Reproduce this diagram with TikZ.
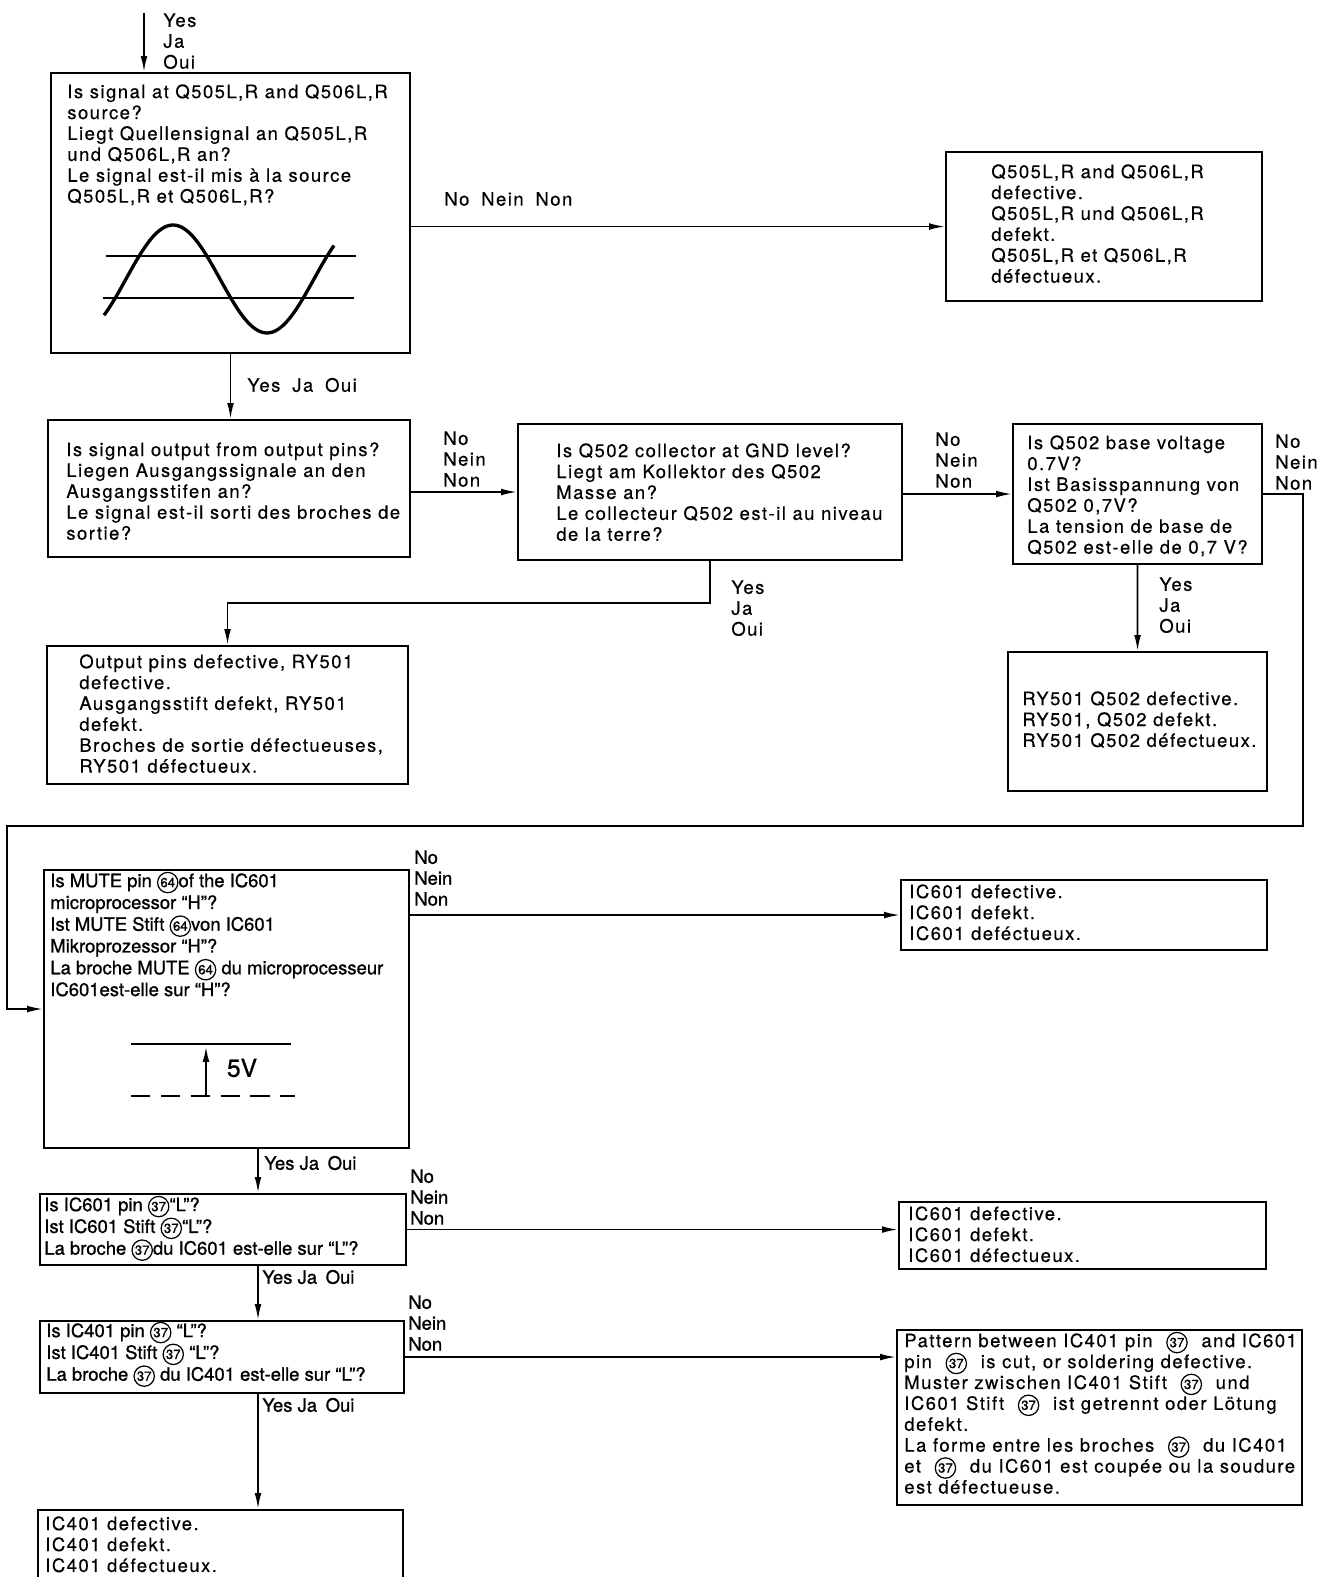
\documentclass[tikz,border=0pt]{standalone}
\usepackage{fontspec}
\setmainfont[LetterSpace=8,FakeBold=0.4]{TeX Gyre Heros}
\newfontfamily\boldish[FakeBold=1.0]{TeX Gyre Heros}
\usetikzlibrary{arrows.meta,positioning}
\newcommand{\pinno}[1]{\smash{\tikz[baseline=(pn.base)]\node[draw,circle,line width=0.7pt,inner sep=0.6pt,anchor=center,font=\fontsize{7.5}{7.5}\selectfont\boldish] (pn) {#1};}}
\newcommand{\pinsp}[1]{\hspace{4pt}\pinno{#1}\hspace{4pt}}

\begin{document}
\begin{tikzpicture}[x=0.02cm,y=-0.02cm,>={Latex[length=9pt,width=3.8pt]},
  box/.style 2 args={draw,line width=1.2pt,inner sep=0pt,anchor=north west,minimum width=#1,minimum height=#2},
  txt/.style={inner sep=0pt,align=left,font=\fontsize{10.5}{11.9}\selectfont},
  txtb/.style={inner sep=0pt,align=left,font=\fontsize{10.5}{12.4}\selectfont\boldish},
  lbl/.style={inner sep=0pt,align=left,font=\fontsize{10.5}{11.9}\selectfont},
  lblb/.style={inner sep=0pt,align=left,font=\fontsize{10.5}{11.9}\selectfont\boldish},
  wire/.style={line width=1pt},
  arr/.style={wire,->}]
\useasboundingbox (0,0) rectangle (1323,1577);

% boxes
\node[box={7.18cm}{5.60cm}] (A) at (50,72) {};
\node[box={6.32cm}{2.98cm}] (B) at (945,151) {};
\node[box={7.24cm}{2.74cm}] (C) at (47,419) {};
\node[box={7.68cm}{2.72cm}] (D) at (517,423) {};
\node[box={4.98cm}{2.80cm}] (E) at (1012,423) {};
\node[box={7.22cm}{2.76cm}] (F) at (46,645) {};
\node[box={5.18cm}{2.78cm}] (G) at (1007,651) {};
\node[box={7.30cm}{5.56cm}] (H) at (43,869) {};
\node[box={7.32cm}{1.40cm}] (I) at (900,879) {};
\node[box={7.32cm}{1.42cm}] (J) at (39,1193) {};
\node[box={7.34cm}{1.34cm}] (K) at (898,1201) {};
\node[box={7.28cm}{1.44cm}] (L) at (39,1320) {};
\node[box={8.10cm}{3.50cm}] (M) at (896,1329) {};
\node[box={7.30cm}{1.60cm}] (N) at (37,1509) {};

% texts
\node[txt,below right=0.24cm and 0.34cm of A.north west] (At) {Is signal at Q505L,R and Q506L,R\\source?\\Liegt Quellensignal an Q505L,R\\und Q506L,R an?\\Le signal est-il mis à la source\\Q505L,R et Q506L,R?};
\node[txt,below right=0.26cm and 0.92cm of B.north west] (Bt) {Q505L,R and Q506L,R\\defective.\\Q505L,R und Q506L,R\\defekt.\\Q505L,R et Q506L,R\\défectueux.};
\node[txt,below right=0.46cm and 0.38cm of C.north west] (Ct) {Is signal output from output pins?\\Liegen Ausgangssignale an den\\Ausgangsstifen an?\\Le signal est-il sorti des broches de\\sortie?};
\node[txt,below right=0.40cm and 0.78cm of D.north west] (Dt) {Is Q502 collector at GND level?\\Liegt am Kollektor des Q502\\Masse an?\\Le collecteur Q502 est-il au niveau\\de la terre?};
\node[txt,below right=0.24cm and 0.30cm of E.north west] (Et) {Is Q502 base voltage\\0.7V?\\Ist Basisspannung von\\Q502 0,7V?\\La tension de base de\\Q502 est-elle de 0,7 V?};
\node[txt,below right=0.18cm and 0.66cm of F.north west] (Ft) {Output pins defective, RY501\\defective.\\Ausgangsstift defekt, RY501\\defekt.\\Broches de sortie défectueuses,\\RY501 défectueux.};
\node[txt,below right=0.80cm and 0.30cm of G.north west] (Gt) {RY501 Q502 defective.\\RY501, Q502 defekt.\\RY501 Q502 défectueux.};
\node[txtb,below right=0.08cm and 0.14cm of H.north west] (Ht) {Is MUTE pin \pinno{64}of the IC601\\microprocessor “H”?\\Ist MUTE Stift \pinno{64}von IC601\\Mikroprozessor “H”?\\La broche MUTE \pinno{64} du microprocesseur\\IC601est-elle sur “H”?};
\node[txt,below right=0.10cm and 0.18cm of I.north west] (It) {IC601 defective.\\IC601 defekt.\\IC601 deféctueux.};
\node[txtb,below right=0.08cm and 0.10cm of J.north west] (Jt) {Is IC601 pin \pinno{37}“L”?\\Ist IC601 Stift \pinno{37}“L”?\\La broche \pinno{37}du IC601 est-elle sur “L”?};
\node[txt,below right=0.10cm and 0.20cm of K.north west] (Kt) {IC601 defective.\\IC601 defekt.\\IC601 défectueux.};
\node[txtb,below right=0.06cm and 0.14cm of L.north west] (Lt) {Is IC401 pin \pinno{37} “L”?\\Ist IC401 Stift \pinno{37} “L”?\\La broche \pinno{37} du IC401 est-elle sur “L”?};
\node[txt,below right=0.08cm and 0.16cm of M.north west] (Mt) {Pattern between IC401 pin \pinsp{37} and IC601\\pin \pinsp{37} is cut, or soldering defective.\\Muster zwischen IC401 Stift \pinsp{37} und\\IC601 Stift \pinsp{37} ist getrennt oder Lötung\\defekt.\\La forme entre les broches \pinsp{37} du IC401\\et \pinsp{37} du IC601 est coupée ou la soudure\\est défectueuse.};
\node[txt,below right=0.14cm and 0.16cm of N.north west] (Nt) {IC401 defective.\\IC401 defekt.\\IC401 défectueux.};

% sine wave
\draw[line width=1.1pt] (106,256) -- (356,256);
\draw[line width=1.1pt] (103,298) -- (354,298);
\draw[line width=1.9pt,domain=104:334,samples=80,smooth] plot (\x,{279-54*sin((\x-173)*1.915+90)});

% 5V level
\draw[line width=1.6pt] (131,1044) -- (291,1044);
\draw[line width=1.6pt,dash pattern=on 11pt off 6pt] (131,1096) -- (295,1096);
\draw[->,line width=1.2pt] (206,1096) -- (206,1046);
\node[font=\fontsize{14}{14}\selectfont\boldish] (volt) at (242,1068) {5V};

% connectors
\coordinate (start) at (144,13);
\coordinate (Dturn) at (710,603);
\coordinate (wireR) at (1303,826);
\coordinate (wireL) at (7,826);
\coordinate (spine) at (258,0);
\draw[arr] (start) -- (start |- A.north);
\draw[arr] (A.east |- B.west) -- (B.west);
\draw[arr] (A.south) -- (A.south |- C.north);
\draw[arr] (C.east |- D.west) -- (D.west);
\draw[arr] (D.east |- E.west) -- (E.west);
\draw[arr] (D.south -| Dturn) -- (Dturn) -| (F.north);
\draw[arr] (E.south) -- (G.north);
\draw[arr] (E.east) -| (wireR) -- (wireL) |- (H.west);
\draw[arr] (H.east |- I.west) -- (I.west);
\draw[arr] (H.south -| spine) -- (J.north -| spine);
\draw[arr] (J.east) -- (J.east -| K.west);
\draw[arr] (J.south -| spine) -- (L.north -| spine);
\draw[arr] (L.east) -- (L.east -| M.west);
\draw[arr] (L.south -| spine) -- (N.north -| spine);

% labels
\node[lbl,anchor=north west] (yesTop) at (163,13) {Yes\\Ja\\Oui};
\node[lbl,anchor=west] (noAB) at (444,199) {No\hspace{3pt} Nein\hspace{3pt} Non};
\node[lbl,anchor=west] (yesAC) at (247,385) {Yes\hspace{3pt} Ja\hspace{3pt} Oui};
\node[lbl,anchor=north west] (noCD) at (443,431) {No\\Nein\\Non};
\node[lbl,anchor=north west] (noDE) at (935,432) {No\\Nein\\Non};
\node[lbl,anchor=north west] (noEH) at (1275,434) {No\\Nein\\Non};
\node[lbl,anchor=north west] (yesDF) at (731,580) {Yes\\Ja\\Oui};
\node[lbl,anchor=north west] (yesEG) at (1159,577) {Yes\\Ja\\Oui};
\node[lblb,anchor=north west] (noHI) at (414,850) {No\\Nein\\Non};
\node[lblb,anchor=west] (yesHJ) at (264,1163) {Yes Ja\hspace{2pt} Oui};
\node[lblb,anchor=north west] (noJK) at (410,1169) {No\\Nein\\Non};
\node[lblb,anchor=west] (yesJL) at (262,1277) {Yes Ja\hspace{2pt} Oui};
\node[lblb,anchor=north west] (noLM) at (408,1295) {No\\Nein\\Non};
\node[lblb,anchor=west] (yesLN) at (262,1405) {Yes Ja\hspace{2pt} Oui};
\end{tikzpicture}
\end{document}
